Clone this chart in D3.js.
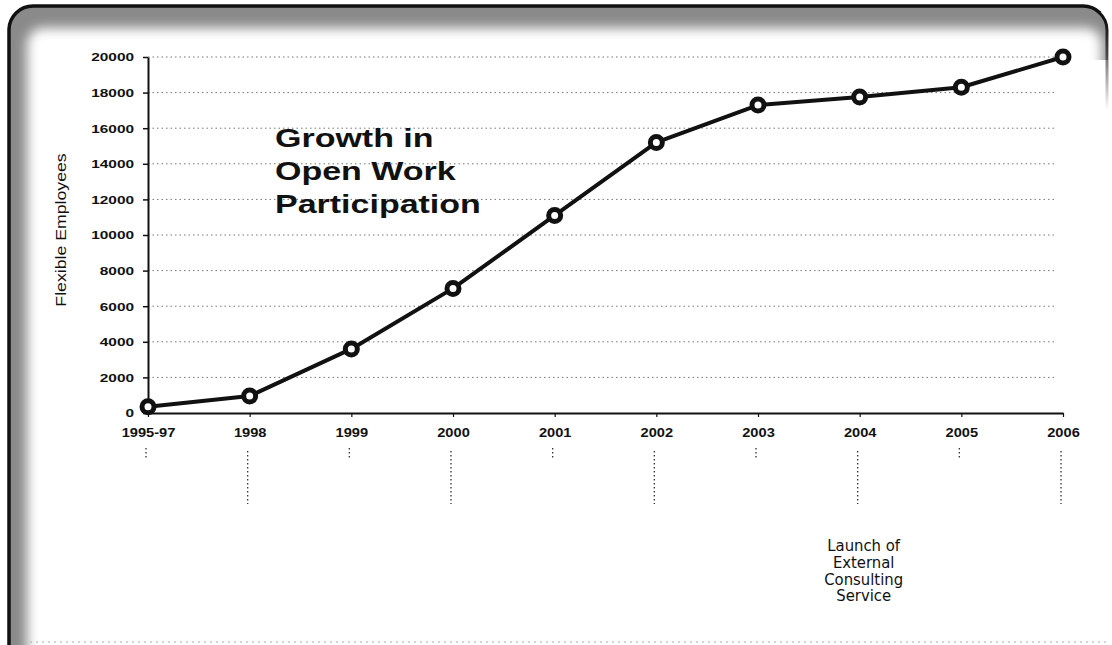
<!DOCTYPE html>
<html>
<head>
<meta charset="utf-8">
<script src="https://cdn.jsdelivr.net/npm/d3@7"></script>
<style>
  html, body { margin: 0; padding: 0; background: #ffffff; }
  svg { display: block; }
</style>
</head>
<body>
<svg id="chart" width="1112" height="645"></svg>
<script>
// ---- data ----
const categories = ["1995-97","1998","1999","2000","2001","2002","2003","2004","2005","2006"];
const employees  = [350, 950, 3600, 7000, 11100, 15200, 17300, 17750, 18300, 20000];
const yTicks     = [0,2000,4000,6000,8000,10000,12000,14000,16000,18000,20000];
const titleLines = ["Growth in","Open Work","Participation"];
const yLabel     = "Flexible Employees";
const noteCategory = "2004";
const noteLines  = ["Launch of","External","Consulting","Service"];

const svg = d3.select("#chart");

// ---- frame ----
const defs = svg.append("defs");
const blur = defs.append("filter").attr("id","soft").attr("x","-5%").attr("y","-5%").attr("width","110%").attr("height","110%");
blur.append("feGaussianBlur").attr("stdDeviation", 6);
const rg = defs.append("linearGradient").attr("id","rightFade")
  .attr("gradientUnits","userSpaceOnUse").attr("x1",0).attr("y1",20).attr("x2",0).attr("y2",110);
rg.append("stop").attr("offset","0").attr("stop-color","#111").attr("stop-opacity",1);
rg.append("stop").attr("offset","1").attr("stop-color","#111").attr("stop-opacity",0);

svg.append("rect")
  .attr("x", 8).attr("y", 5).attr("width", 1100).attr("height", 680)
  .attr("rx", 24)
  .attr("fill", "#8a8a8a");
svg.append("rect")
  .attr("x", 27).attr("y", 28).attr("width", 1075).attr("height", 640)
  .attr("rx", 16)
  .attr("fill", "#ffffff")
  .attr("filter", "url(#soft)");
svg.append("rect")
  .attr("x", 60).attr("y", 60).attr("width", 1060).attr("height", 600)
  .attr("fill", "#ffffff");
svg.append("path")
  .attr("d", "M9,660 L9,29 A24,24 0 0 1 33,6 L1083,6 A24,24 0 0 1 1100,13")
  .attr("fill", "none").attr("stroke", "#111").attr("stroke-width", 3.5);
svg.append("path")
  .attr("d", "M1099,12.5 A24,24 0 0 1 1107,30 L1107,110")
  .attr("fill", "none").attr("stroke", "url(#rightFade)").attr("stroke-width", 3);
svg.append("line")
  .attr("x1", 30).attr("x2", 1108).attr("y1", 642).attr("y2", 642)
  .attr("stroke", "#aaa").attr("stroke-width", 1).attr("stroke-dasharray", "2,4");

// ---- scales ----
const x = d3.scalePoint().domain(categories).range([148, 1063]);
const y = d3.scaleLinear().domain([0, 20000]).range([413, 57]);

// ---- gridlines ----
svg.append("g").selectAll("line")
  .data(yTicks.filter(d => d > 0))
  .join("line")
  .attr("x1", x.range()[0]).attr("x2", x.range()[1] - 6)
  .attr("y1", d => y(d)).attr("y2", d => y(d))
  .attr("stroke", "#777").attr("stroke-width", 1)
  .attr("stroke-dasharray", "1.5,3");

// ---- axes ----
const yAxis = svg.append("g")
  .attr("transform", `translate(${x.range()[0]},0)`)
  .call(d3.axisLeft(y).tickValues(yTicks).tickSize(5).tickSizeOuter(0).tickFormat(d3.format("d")));
yAxis.select(".domain").attr("stroke", "#111").attr("stroke-width", 2);
yAxis.selectAll(".tick line").attr("stroke", "#111").attr("stroke-width", 1.5);
yAxis.selectAll(".tick text")
  .attr("x", -10).attr("dy", "0.36em")
  .attr("transform", "scale(1.4,1)")
  .attr("font-family", "'Liberation Sans', Arial, sans-serif")
  .attr("font-size", 11).attr("font-weight", "bold").attr("fill", "#111");

const xAxis = svg.append("g")
  .attr("transform", `translate(0,${y(0)})`)
  .call(d3.axisBottom(x).tickSize(4).tickSizeOuter(0));
xAxis.select(".domain").attr("stroke", "#111").attr("stroke-width", 2);
xAxis.selectAll(".tick line").attr("stroke", "#111").attr("stroke-width", 1.2);
xAxis.selectAll(".tick text")
  .attr("y", 24).attr("dy", 0)
  .attr("transform", "scale(1.22,1)")
  .attr("font-family", "'Liberation Sans', Arial, sans-serif")
  .attr("font-size", 12).attr("font-weight", "bold").attr("fill", "#111");

// ---- drop lines under category labels ----
svg.append("g").selectAll("line")
  .data(categories)
  .join("line")
  .attr("x1", d => x(d) - 2).attr("x2", d => x(d) - 2)
  .attr("y1", (d, i) => i % 2 ? 451 : 448)
  .attr("y2", (d, i) => i % 2 ? 504 : 459)
  .attr("stroke", "#333").attr("stroke-width", 1.3)
  .attr("stroke-dasharray", "1.5,2.5");

// ---- series line ----
const pts = categories.map((c, i) => [x(c), y(employees[i])]);
svg.append("path")
  .attr("d", d3.line()(pts))
  .attr("fill", "none").attr("stroke", "#111").attr("stroke-width", 4)
  .attr("stroke-linejoin", "round");
svg.append("g").selectAll("circle")
  .data(pts)
  .join("circle")
  .attr("cx", d => d[0]).attr("cy", d => d[1]).attr("r", 6)
  .attr("fill", "#fff").attr("stroke", "#111").attr("stroke-width", 5);

// ---- title ----
const title = svg.append("g").attr("transform", "translate(275,0)");
title.selectAll("text")
  .data(titleLines)
  .join("text")
  .attr("transform", (d, i) => `translate(0,${147 + i * 33}) scale(1.36,1)`)
  .attr("font-family", "'Liberation Sans', Arial, sans-serif")
  .attr("font-size", 25).attr("font-weight", "bold").attr("fill", "#111")
  .text(d => d);

// ---- y label ----
svg.append("text")
  .attr("transform", "translate(66,230) rotate(-90) scale(1.18,1)")
  .attr("text-anchor", "middle")
  .attr("font-family", "'Liberation Sans', Arial, sans-serif")
  .attr("font-size", 15).attr("fill", "#111")
  .text(yLabel);

// ---- annotation ----
svg.append("g").selectAll("text")
  .data(noteLines)
  .join("text")
  .attr("x", x(noteCategory) + 4)
  .attr("y", (d, i) => 551 + i * 16.8)
  .attr("text-anchor", "middle")
  .attr("font-family", "'DejaVu Sans Condensed', 'Liberation Sans Narrow', sans-serif")
  .attr("font-stretch", "condensed")
  .attr("font-size", 16.5).attr("fill", "#111")
  .text(d => d);
</script>
</body>
</html>
